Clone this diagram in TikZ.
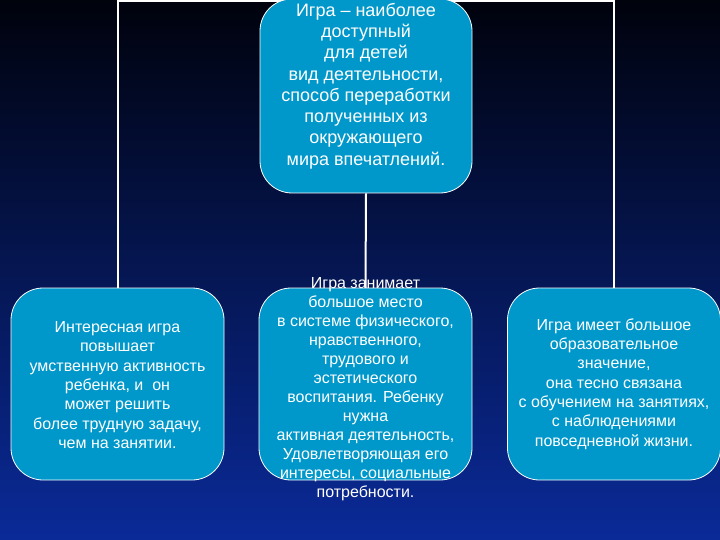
\documentclass[tikz,border=0pt]{standalone}
\usepackage{fontspec}
\setmainfont{Liberation Sans}
\usetikzlibrary{backgrounds}
\definecolor{bgtop}{RGB}{0,2,12}
\definecolor{bgmid}{RGB}{4,22,86}
\definecolor{bgbot}{RGB}{10,42,152}
\definecolor{boxblue}{RGB}{0,152,202}
\tikzset{
  block/.style={draw=white, line width=0.8pt, fill=boxblue, rounded corners=32pt,
    minimum width=213pt, minimum height=192pt, inner sep=0pt},
  blocktext/.style={text=white, align=center, inner sep=0pt,
    font=\fontsize{16}{19.3}\selectfont},
  link/.style={draw=white, line width=2pt},
}
\begin{document}
\begin{tikzpicture}[x=1pt,y=-1pt]
  \useasboundingbox (0,0) rectangle (720,540);

  % boxes
  \node[block, minimum width=212pt, minimum height=194pt] (top) at (366,96) {};
  \node[block] (left) at (117.5,384) {};
  \node[block] (mid) at (365.5,384) {};
  \node[block] (right) at (614,384) {};

  % texts
  \node[blocktext, font=\fontsize{18}{21.3}\selectfont] (toptext) at ([yshift=10pt]top.center)
    {Игра – наиболее\\ доступный\\ для детей\\ вид деятельности,\\ способ переработки\\
     полученных из\\ окружающего\\ мира впечатлений.};
  \node[blocktext] (lefttext) at ([yshift=-1pt]left.center)
    {Интересная игра\\ повышает\\ умственную активность\\ ребенка, и\ \ он\\
     может решить\\ более трудную задачу,\\ чем на занятии.};
  \node[blocktext, font=\fontsize{16}{19}\selectfont] (midtext) at ([yshift=-5pt]mid.center)
    {Игра занимает\\ большое место\\ в системе физического,\\ нравственного,\\
     трудового и\\ эстетического\\ воспитания. Ребенку\\ нужна\\ активная деятельность,\\
     Удовлетворяющая его\\ интересы, социальные\\ потребности.};
  \node[blocktext] (righttext) at (right.center)
    {Игра имеет большое\\ образовательное\\ значение,\\ она тесно связана\\
     с обучением на занятиях,\\ с наблюдениями\\ повседневной жизни.};

  \begin{scope}[on background layer]
    \shade[top color=bgtop, middle color=bgmid, bottom color=bgbot] (0,0) rectangle (720,540);
    \draw[link] ([yshift=-2.5pt]top.north) -| (left.north);
    \draw[link] ([yshift=-2.5pt]top.north) -| (right.north);
    \draw[link] (top.south) -- (mid.north);
  \end{scope}
\end{tikzpicture}
\end{document}
